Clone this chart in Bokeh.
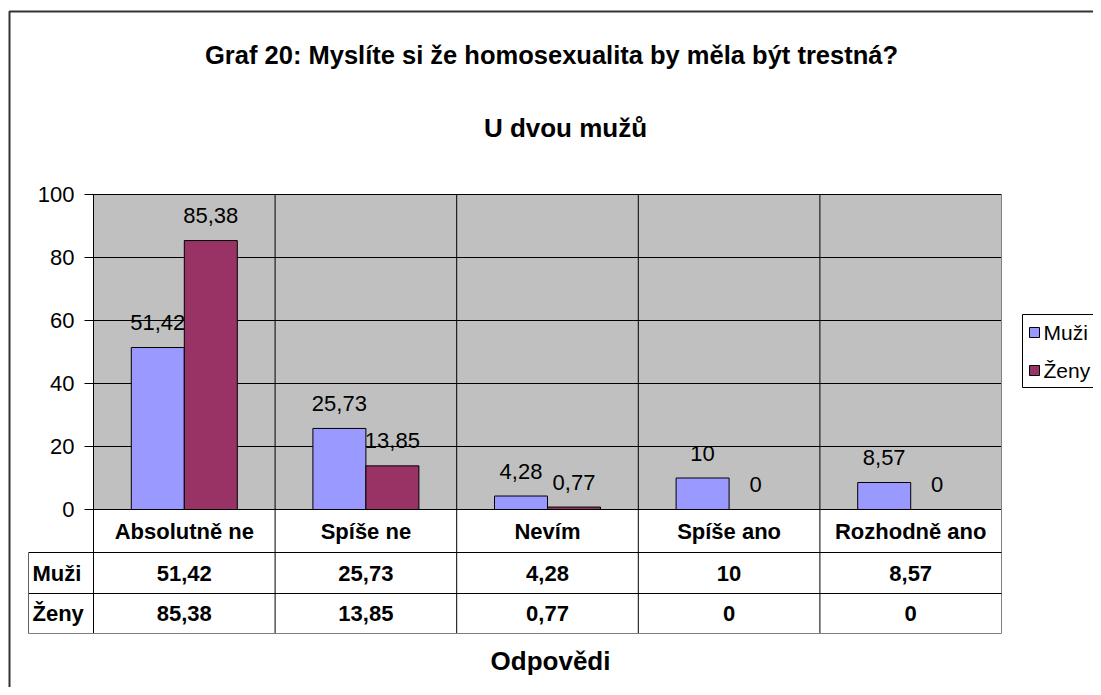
from bokeh.plotting import figure
from bokeh.models import Range1d, ColumnDataSource
from bokeh.embed import file_html
from bokeh.resources import INLINE
from bokeh.core.properties import value
from bokeh.transform import dodge

# ---------------- data ----------------
title = "Graf 20: Myslíte si že homosexualita by měla být trestná?"
subtitle = "U dvou mužů"
x_title = "Odpovědi"
categories = ["Absolutně ne", "Spíše ne", "Nevím", "Spíše ano", "Rozhodně ano"]
series_names = ["Muži", "Ženy"]
muzi = [51.42, 25.73, 4.28, 10, 8.57]
zeny = [85.38, 13.85, 0.77, 0, 0]
y_ticks = [0, 20, 40, 60, 80, 100]
colors = ["#9999FF", "#993366"]


def fmt(v):
    return ("%g" % v).replace(".", ",")


# ---------------- layout (picture pixels -> data units) ----------------
W, H = 1093, 687
PX0 = 93.0          # picture x of first category boundary
PX_PER_CAT = 181.6  # pixels per category
PY0 = 509.0         # picture y of value 0
PY_PER_UNIT = 3.15  # pixels per value unit


def X(px):
    return (px - PX0) / PX_PER_CAT


def Y(py):
    return (PY0 - py) / PY_PER_UNIT


FONT = value("Liberation Sans")
n = len(categories)
ymax = max(y_ticks)
off = 26.5 / PX_PER_CAT
bw = 53.0 / PX_PER_CAT

p = figure(width=W, height=H,
           x_range=Range1d(X(0), X(W)),
           y_range=Range1d(Y(H), Y(0)),
           output_backend="svg", toolbar_location=None,
           x_axis_location=None, y_axis_location=None, min_border=0)
p.grid.grid_line_color = None
p.outline_line_color = None
p.background_fill_color = "white"
p.border_fill_color = "white"

# outer chart border
p.quad(left=[X(9)], right=[X(1130)], top=[Y(11)], bottom=[Y(730)],
       fill_color=None, line_color="#333333", line_width=2)

# plot area
p.quad(left=[0], right=[n], bottom=[0], top=[ymax],
       fill_color="#C0C0C0", line_color=None)

# horizontal grid lines + ticks
p.segment(x0=[X(84)] * len(y_ticks), x1=[n] * len(y_ticks),
          y0=y_ticks, y1=y_ticks, line_color="black", line_width=1)

# vertical category boundaries (plot area + table)
bounds = list(range(n + 1))
p.segment(x0=bounds[:-1], x1=bounds[:-1], y0=[Y(633)] * n, y1=[ymax] * n,
          line_color="black", line_width=1)
p.segment(x0=[n], x1=[n], y0=[Y(633)], y1=[ymax], line_color="#808080", line_width=1)

# table horizontal lines
p.segment(x0=[X(28)] * 2, x1=[n] * 2, y0=[Y(552), Y(593)], y1=[Y(552), Y(593)],
          line_color="black", line_width=1)
p.segment(x0=[X(28)], x1=[n], y0=[Y(633)], y1=[Y(633)], line_color="#808080", line_width=1)
p.segment(x0=[X(28)], x1=[X(28)], y0=[Y(552)], y1=[Y(633)], line_color="#606060", line_width=1)

# bars
src = ColumnDataSource(dict(
    x=[i + 0.5 for i in range(n)],
    cat=categories,
    muzi=muzi, zeny=zeny,
    muzi_lbl=[fmt(v) for v in muzi],
    zeny_lbl=[fmt(v) for v in zeny],
))
p.vbar(x=dodge("x", -off), top="muzi", bottom=0, width=bw, source=src,
       fill_color=colors[0], line_color="black", line_width=1)
p.vbar(x=dodge("x", off), top="zeny", bottom=0, width=bw, source=src,
       fill_color=colors[1], line_color="black", line_width=1)

# data labels
for fld, lbl, o in (("muzi", "muzi_lbl", -off), ("zeny", "zeny_lbl", off)):
    p.text(x=dodge("x", o), y=fld, text=lbl, source=src, y_offset=-25,
           text_align="center", text_baseline="middle", text_font=FONT,
           text_font_size="22px", text_color="black")

# y tick labels
p.text(x=[X(74)] * len(y_ticks), y=y_ticks, text=[str(t) for t in y_ticks],
       text_align="right", text_baseline="middle", text_font=FONT,
       text_font_size="22px", text_color="black")

# data table text
p.text(x="x", y=Y(531), text="cat", source=src, text_align="center",
       text_baseline="middle", text_font=FONT, text_font_size="22px",
       text_font_style="bold", text_color="black")
p.text(x="x", y=Y(573), text="muzi_lbl", source=src, text_align="center",
       text_baseline="middle", text_font=FONT, text_font_size="22px",
       text_font_style="bold", text_color="black")
p.text(x="x", y=Y(613), text="zeny_lbl", source=src, text_align="center",
       text_baseline="middle", text_font=FONT, text_font_size="22px",
       text_font_style="bold", text_color="black")
p.text(x=[X(32)] * 2, y=[Y(573), Y(613)], text=series_names, text_align="left",
       text_baseline="middle", text_font=FONT, text_font_size="22px",
       text_font_style="bold", text_color="black")

# titles
p.text(x=[X(551)], y=[Y(54)], text=[title], text_align="center", text_baseline="middle",
       text_font=FONT, text_font_size="25.5px", text_font_style="bold", text_color="black")
p.text(x=[X(565)], y=[Y(127)], text=[subtitle], text_align="center", text_baseline="middle",
       text_font=FONT, text_font_size="26px", text_font_style="bold", text_color="black")
p.text(x=[X(550)], y=[Y(660)], text=[x_title], text_align="center", text_baseline="middle",
       text_font=FONT, text_font_size="26px", text_font_style="bold", text_color="black")

# legend
p.quad(left=[X(1022)], right=[X(1130)], top=[Y(314)], bottom=[Y(387)],
       fill_color="white", line_color="black", line_width=1)
p.quad(left=[X(1029)] * 2, right=[X(1039)] * 2, top=[Y(327), Y(365)],
       bottom=[Y(337), Y(375)], fill_color=colors, line_color="black", line_width=1)
p.text(x=[X(1043)] * 2, y=[Y(332), Y(370)], text=series_names, text_align="left",
       text_baseline="middle", text_font=FONT, text_font_size="21px", text_color="black")

open("out.html", "w").write(file_html(p, INLINE))
